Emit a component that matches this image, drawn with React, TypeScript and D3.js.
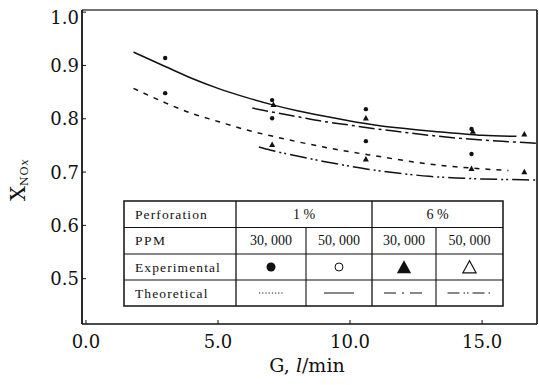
import React from "react";
import * as d3 from "d3";

// ---- data ----
const xTicks = [0, 5, 10, 15];
const yTicks = [0.5, 0.6, 0.7, 0.8, 0.9, 1.0];

// Theoretical curves
const theoX_1_30 = [1.8, 3, 4, 5, 6, 7, 8, 9, 10, 11, 12, 13, 14, 15, 16];
const theoY_1_30 = [0.857, 0.83, 0.81, 0.795, 0.78, 0.768, 0.757, 0.747, 0.738, 0.73, 0.722, 0.715, 0.71, 0.706, 0.703];
const theoX_1_50 = [1.8, 3, 4, 5, 6, 7, 8, 9, 10, 11, 12, 13, 14, 15, 16.3];
const theoY_1_50 = [0.925, 0.898, 0.876, 0.857, 0.841, 0.827, 0.815, 0.805, 0.796, 0.788, 0.782, 0.777, 0.773, 0.769, 0.767];
const theoX_6_30 = [6.3, 7, 8, 9, 10, 11, 12, 13, 14, 15, 16, 17.05];
const theoY_6_30 = [0.82, 0.813, 0.804, 0.795, 0.788, 0.781, 0.775, 0.769, 0.764, 0.76, 0.757, 0.754];
const theoX_6_50 = [6.55, 7, 8, 9, 10, 11, 12, 13, 14, 15, 16, 17.05];
const theoY_6_50 = [0.747, 0.741, 0.73, 0.72, 0.711, 0.703, 0.697, 0.692, 0.689, 0.687, 0.686, 0.685];

// Experimental points
const expX_1_30 = [3.0, 7.05, 10.6, 14.6];
const expY_1_30 = [0.848, 0.801, 0.758, 0.734];
const expX_1_50 = [3.0, 7.05, 10.6, 14.6];
const expY_1_50 = [0.914, 0.835, 0.818, 0.781];
const expX_6_30 = [7.1, 10.6, 14.65, 16.6];
const expY_6_30 = [0.826, 0.801, 0.776, 0.771];
const expX_6_50 = [7.05, 10.6, 14.6, 16.6];
const expY_6_50 = [0.751, 0.724, 0.706, 0.7];

const perforations = ["1 %", "6 %"];
const ppms = ["30, 000", "50, 000", "30, 000", "50, 000"];
const rowLabels = ["Perforation", "PPM", "Experimental", "Theoretical"];

const W = 539;
const H = 385;
const SERIF = "Liberation Serif, Times New Roman, DejaVu Serif, serif";
const WIDE_SERIF = "DejaVu Serif, Liberation Serif, serif";

const x = d3.scaleLinear().domain([-0.15, 17.08]).range([82, 537]);
const y = d3.scaleLinear().domain([0.415, 1.004]).range([324, 10]);

const zip = (xs: number[], ys: number[]) => xs.map((v, i) => [v, ys[i]] as [number, number]);

const lineGen = d3
  .line<[number, number]>()
  .x((d) => x(d[0]))
  .y((d) => y(d[1]))
  .curve(d3.curveMonotoneX);

const curves = [
  { pts: zip(theoX_1_30, theoY_1_30), dash: "5,6", legendDash: "1.2,2" },
  { pts: zip(theoX_1_50, theoY_1_50), dash: "none", legendDash: "none" },
  { pts: zip(theoX_6_30, theoY_6_30), dash: "16,4,3,4", legendDash: "12,6,2,6" },
  { pts: zip(theoX_6_50, theoY_6_50), dash: "17,4,2,3,2,4", legendDash: "12,4,1.5,2,1.5,4" },
];

const points = [
  { pts: zip(expX_1_30, expY_1_30), shape: "circle" },
  { pts: zip(expX_1_50, expY_1_50), shape: "circle" },
  { pts: zip(expX_6_30, expY_6_30), shape: "triangle" },
  { pts: zip(expX_6_50, expY_6_50), shape: "triangle" },
];

const triPath = (cx: number, cy: number, s: number) =>
  `M${cx},${cy - s * 0.6}L${cx + s * 0.55},${cy + s * 0.4}L${cx - s * 0.55},${cy + s * 0.4}Z`;

// Legend table geometry
const tLeft = 124;
const tRight = 503;
const colEdges = [tLeft, 236, 306, 372, 436, tRight];
const rowEdges = [201, 227.5, 254, 280, 306];

export default function App() {
  const [x0, x1] = x.range();
  const [y0, y1] = y.range();
  return (
    <svg
      width={W}
      height={H}
      style={{ position: "absolute", left: 0, top: 0, background: "#fff" }}
    >
      <g fontFamily={SERIF}>
      <rect x={0} y={0} width={W} height={H} fill="#fff" />
      {/* frame */}
      <line x1={x0} x2={x1} y1={y1} y2={y1} stroke="#444" strokeWidth={1.3} />
      <line x1={x0} x2={x0} y1={y1} y2={y0} stroke="#111" strokeWidth={1.8} />
      <line x1={x1} x2={x1} y1={y1} y2={y0} stroke="#111" strokeWidth={1.6} />
      <line x1={x0} x2={x1} y1={y0} y2={y0} stroke="#111" strokeWidth={1.6} />

      {/* y ticks */}
      {yTicks.map((t) => (
        <g key={"y" + t}>
          <line x1={x0} x2={x0 + 4} y1={y(t)} y2={y(t)} stroke="#111" strokeWidth={1} />
          <text
            x={x0 - 3}
            y={Math.max(y(t), 17)}
            textAnchor="end"
            dominantBaseline="central"
            fontSize={18}
            fontFamily={WIDE_SERIF}
            fill="#111"
          >
            {t.toFixed(1)}
          </text>
        </g>
      ))}
      {/* x ticks */}
      {xTicks.map((t) => (
        <g key={"x" + t}>
          <line x1={x(t)} x2={x(t)} y1={y0} y2={y0 - 4} stroke="#111" strokeWidth={1} />
          <text
            x={x(t)}
            y={y0 + 17}
            textAnchor="middle"
            dominantBaseline="central"
            fontSize={18}
            fontFamily={WIDE_SERIF}
            fill="#111"
          >
            {t.toFixed(1)}
          </text>
        </g>
      ))}

      {/* axis titles */}
      <text x={307} y={372} textAnchor="middle" fontSize={19} fontFamily={WIDE_SERIF} fill="#111">
        G, <tspan fontStyle="italic">l</tspan>/min
      </text>
      <g transform="translate(25,201) rotate(-90)">
        <text x={0} y={0} fontSize={21} fontFamily={WIDE_SERIF} fill="#111">
          X
          <tspan fontSize={11} dy={3} letterSpacing={1}>
            NO
          </tspan>
          <tspan fontSize={11} fontStyle="italic">
            x
          </tspan>
        </text>
      </g>

      {/* theoretical curves */}
      {curves.map((c, i) => (
        <path
          key={"c" + i}
          d={lineGen(c.pts) || ""}
          fill="none"
          stroke="#111"
          strokeWidth={1.5}
          strokeDasharray={c.dash}
        />
      ))}

      {/* experimental points */}
      {points.map((p, i) =>
        p.pts.map((d, j) =>
          p.shape === "circle" ? (
            <circle key={`p${i}-${j}`} cx={x(d[0])} cy={y(d[1])} r={2.2} fill="#111" />
          ) : (
            <path key={`p${i}-${j}`} d={triPath(x(d[0]), y(d[1]), 5.5)} fill="#111" />
          )
        )
      )}

      {/* legend table */}
      <g>
        <rect x={tLeft} y={rowEdges[0]} width={tRight - tLeft} height={rowEdges[4] - rowEdges[0]} fill="#fff" stroke="#111" strokeWidth={1.5} />
        {rowEdges.slice(1, 4).map((r, i) => (
          <line key={"r" + i} x1={tLeft} x2={tRight} y1={r} y2={r} stroke="#111" strokeWidth={1.1} />
        ))}
        <line x1={colEdges[1]} x2={colEdges[1]} y1={rowEdges[0]} y2={rowEdges[4]} stroke="#111" strokeWidth={1.3} />
        <line x1={colEdges[3]} x2={colEdges[3]} y1={rowEdges[0]} y2={rowEdges[4]} stroke="#111" strokeWidth={1.3} />
        <line x1={colEdges[2]} x2={colEdges[2]} y1={rowEdges[1]} y2={rowEdges[4]} stroke="#111" strokeWidth={1.1} />
        <line x1={colEdges[4]} x2={colEdges[4]} y1={rowEdges[1]} y2={rowEdges[4]} stroke="#111" strokeWidth={1.1} />

        {rowLabels.map((lab, i) => (
          <text
            key={lab}
            x={tLeft + 11}
            y={(rowEdges[i] + rowEdges[i + 1]) / 2}
            dominantBaseline="central"
            fontSize={13.5}
            letterSpacing={lab === "PPM" ? 1.5 : 1.1}
            fill="#111"
          >
            {lab}
          </text>
        ))}
        {perforations.map((p, i) => (
          <text
            key={"pf" + i}
            x={(colEdges[1 + i * 2] + colEdges[3 + i * 2]) / 2}
            y={(rowEdges[0] + rowEdges[1]) / 2}
            textAnchor="middle"
            dominantBaseline="central"
            fontSize={14}
            fill="#111"
          >
            {p}
          </text>
        ))}
        {ppms.map((p, i) => {
          const cx = (colEdges[1 + i] + colEdges[2 + i]) / 2;
          const cy1 = (rowEdges[1] + rowEdges[2]) / 2;
          const cy2 = (rowEdges[2] + rowEdges[3]) / 2;
          const cy3 = (rowEdges[3] + rowEdges[4]) / 2;
          let marker: React.ReactNode = null;
          if (i === 0) marker = <circle cx={cx} cy={cy2} r={4.5} fill="#111" />;
          if (i === 1) marker = <circle cx={cx} cy={cy2} r={4} fill="#fff" stroke="#111" strokeWidth={1} />;
          if (i === 2) marker = <path d={triPath(cx, cy2 + 1, 13)} fill="#111" />;
          if (i === 3) marker = <path d={triPath(cx, cy2 + 1, 12)} fill="#fff" stroke="#111" strokeWidth={1.2} />;
          const half = i === 0 ? 12 : i === 1 ? 15 : i === 2 ? 20 : 22;
          return (
            <g key={"ppm" + i}>
              <text x={cx} y={cy1} textAnchor="middle" dominantBaseline="central" fontSize={14} fill="#111">
                {p}
              </text>
              {marker}
              <line
                x1={cx - half}
                x2={cx + half}
                y1={cy3}
                y2={cy3}
                stroke="#111"
                strokeWidth={1}
                strokeDasharray={curves[i].legendDash}
              />
            </g>
          );
        })}
      </g>
      </g>
    </svg>
  );
}
